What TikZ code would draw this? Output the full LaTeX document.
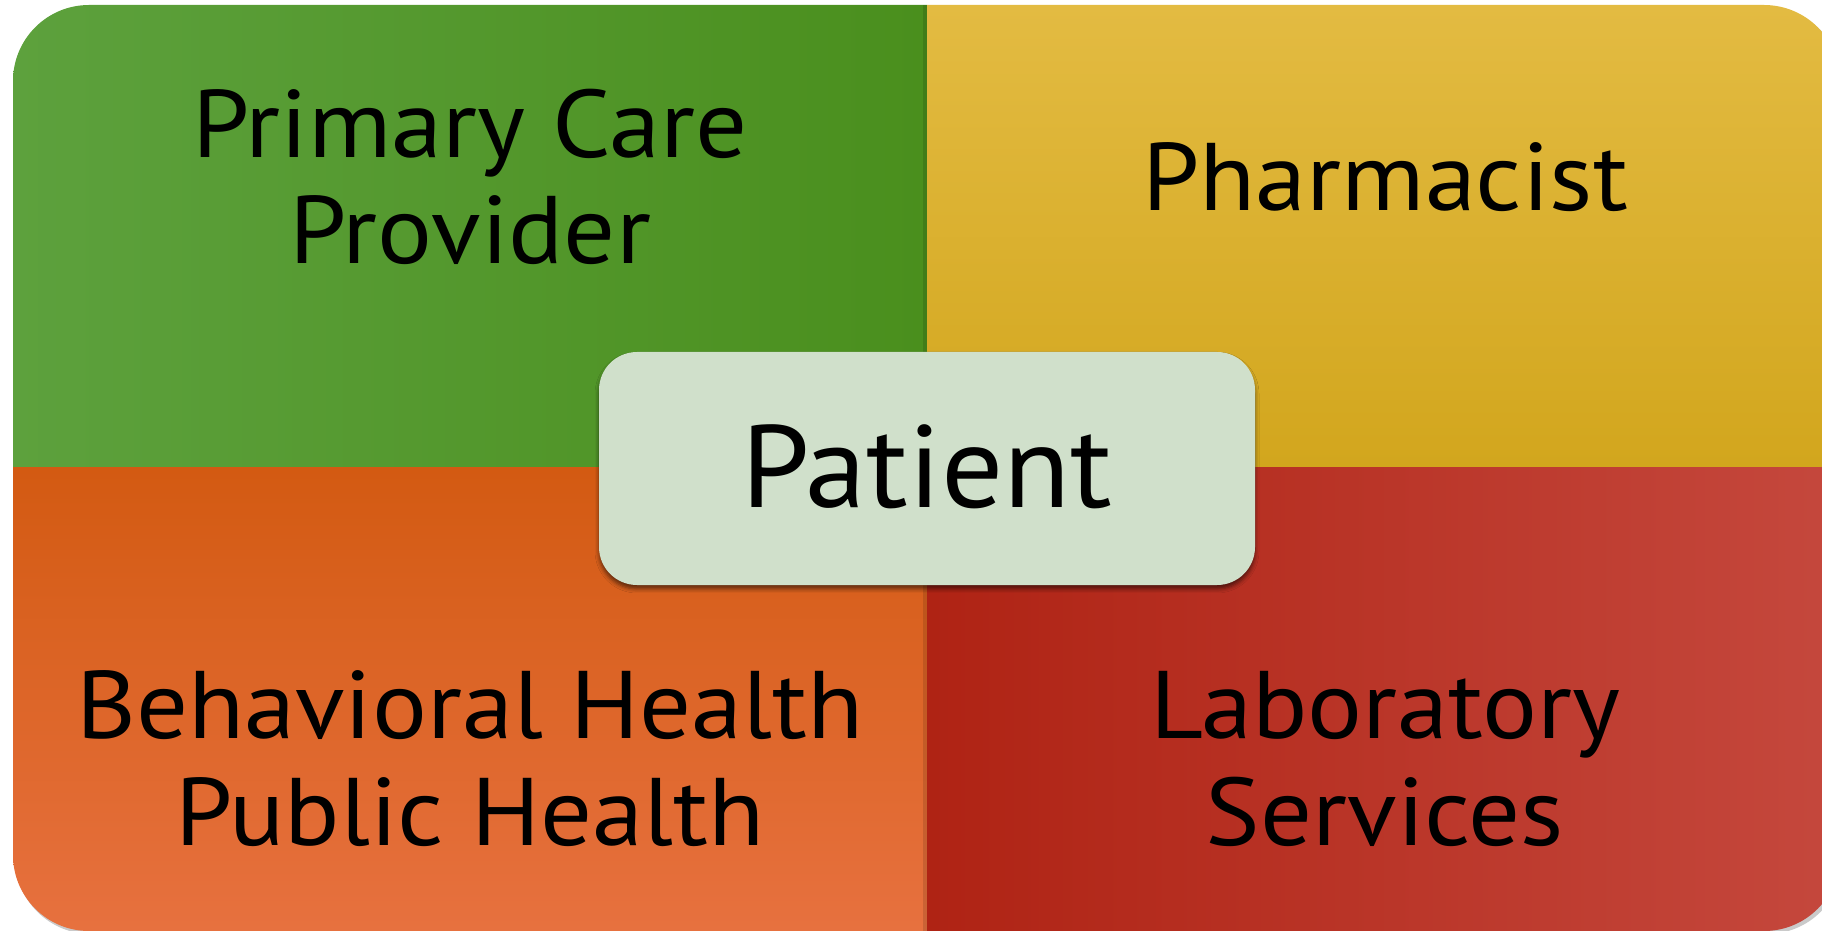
\documentclass[tikz,border=0pt]{standalone}
\usepackage{fontspec}
\setmainfont{PT Sans}
\newfontfamily\qfont[FakeStretch=1.07]{PT Sans}
\newfontfamily\pfont[FakeStretch=1.05]{PT Sans}
\usetikzlibrary{shadows,shadows.blur}
\definecolor{gL}{RGB}{93,161,61}
\definecolor{gR}{RGB}{74,143,29}
\definecolor{yT}{RGB}{227,187,66}
\definecolor{yB}{RGB}{210,166,29}
\definecolor{oT}{RGB}{211,90,18}
\definecolor{oB}{RGB}{231,113,63}
\definecolor{rL}{RGB}{175,35,20}
\definecolor{rR}{RGB}{197,72,61}
\definecolor{pat}{RGB}{208,224,203}
\tikzset{
  qlabel/.style={anchor=base, inner sep=0pt, text=black, font=\qfont\fontsize{96}{100}\selectfont},
  plabel/.style={anchor=base, inner sep=0pt, text=black, font=\pfont\fontsize{117}{120}\selectfont},
  patbox/.style={rectangle, rounded corners=38pt, fill=pat, minimum width=656pt, minimum height=233pt, inner sep=0pt,
    blur shadow={shadow xshift=0pt, shadow yshift=-4pt, shadow blur radius=4pt, shadow opacity=55}},
}
\begin{document}
\begin{tikzpicture}[x=1pt,y=1pt]
\useasboundingbox (0,0) rectangle (1822,930);
% outer shadow
\fill[black!35, opacity=0.6, rounded corners=76pt] (15,-4) rectangle (1843,922);
\begin{scope}
  \clip[rounded corners=76pt] (13,-1) rectangle (1840,925);
  \shade[left color=gL, right color=gR] (13,462) rectangle (927,925);
  \shade[top color=yT, bottom color=yB] (927,462) rectangle (1840,925);
  \shade[top color=oT, bottom color=oB] (13,-1) rectangle (927,462);
  \shade[left color=rL, right color=rR] (927,-1) rectangle (1840,462);
  % subtle divider shadows
  \fill[black, opacity=0.12] (923,462) rectangle (927,925);
  \fill[black, opacity=0.12] (923,-1) rectangle (927,462);
\end{scope}
% patient box
\node[patbox] (patient) at (927,461.5) {};
% labels
\node[qlabel] (pcp1) at (470,772) {Primary Care};
\node[qlabel] (pcp2) at (470,666) {Provider};
\node[qlabel] (pharm) at (1385,719) {Pharmacist};
\node[qlabel] (bh1) at (470,192) {Behavioral Health};
\node[qlabel] (bh2) at (470,85) {Public Health};
\node[qlabel] (lab1) at (1385,192) {Laboratory};
\node[qlabel] (lab2) at (1385,85) {Services};
\node[plabel] (ptext) at (927,422) {Patient};
\end{tikzpicture}
\end{document}
